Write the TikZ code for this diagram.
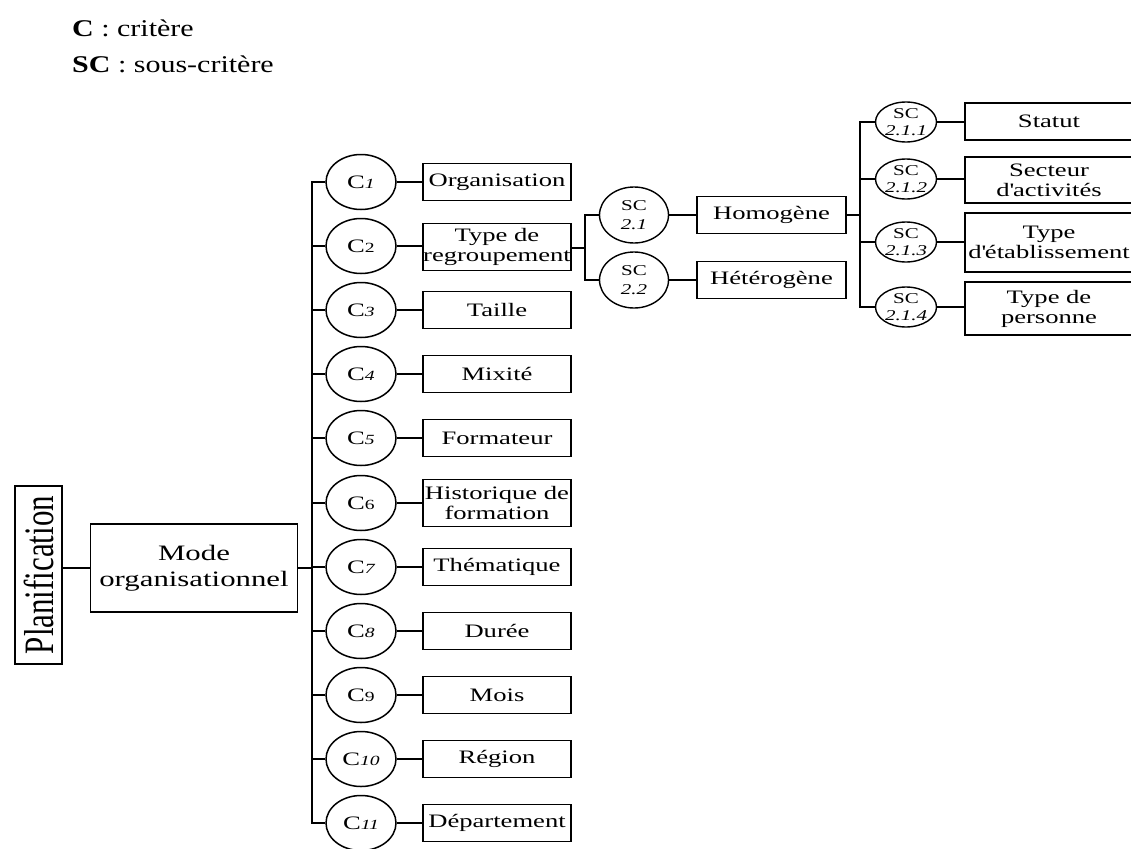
\documentclass[tikz,border=0pt]{standalone}
\usepackage{fontspec}
\usepackage{graphicx}
\usetikzlibrary{shapes.geometric}
\setmainfont{Liberation Serif}
\newfontfamily\df[FakeStretch=1.4]{Liberation Serif}
\newfontfamily\lf[FakeStretch=1.25]{Liberation Serif}
\newcommand{\cnI}[1]{{\fontsize{14}{14}\selectfont\itshape #1}}
\newcommand{\cnU}[1]{{\fontsize{14}{14}\selectfont #1}}
\begin{document}
\begin{tikzpicture}[x=1pt,y=-1pt,
 box/.style={draw, line width=1.6pt, inner sep=0pt, minimum width=148pt, minimum height=37pt, align=center, font=\df\fontsize{19}{20}\selectfont},
 crit/.style={draw, ellipse, line width=1.5pt, inner sep=0pt, minimum width=70pt, minimum height=55pt, font=\df\fontsize{19}{20}\selectfont},
 sc/.style={draw, ellipse, line width=1.4pt, inner sep=0pt, minimum width=69pt, minimum height=56pt, align=center, font=\df\fontsize{15}{19}\selectfont},
 ssc/.style={draw, ellipse, line width=1.4pt, inner sep=-4pt, minimum width=61pt, minimum height=40pt, align=center, font=\df\fontsize{15}{17}\selectfont},
 link/.style={line width=1.6pt},
 bus/.style={line width=2pt, line join=miter}]
\clip (0,0) rectangle (1131,848);
\fill[white] (0,0) rectangle (1131,848);

% legend
\node[anchor=base west, inner sep=0pt, font=\lf\fontsize{24}{24}\selectfont] (l1) at (72,37) {\textbf{C} : critère};
\node[anchor=base west, inner sep=0pt, font=\lf\fontsize{24}{24}\selectfont] (l2) at (72,73) {\textbf{SC} : sous-critère};

% root
\node[draw, line width=1.6pt, inner sep=0pt, minimum width=47pt, minimum height=178pt] (plan) at (38.5,575)
  {\rotatebox{90}{\scalebox{1}[1.35]{\fontsize{31}{31}\selectfont Planification}}};
\node[box, minimum width=207pt, minimum height=88pt, font=\df\fontsize{22}{26}\selectfont] (mode) at (194,568) {Mode\\organisationnel};
\draw[link] (plan.east |- mode.west) -- (mode.west);

% criteria
\node[crit] (c1) at (361,182) {C\cnI{1}};
\node[crit] (c2) at (361,246) {C\cnU{2}};
\node[crit] (c3) at (361,310) {C\cnI{3}};
\node[crit] (c4) at (361,374) {C\cnI{4}};
\node[crit] (c5) at (361,438) {C\cnI{5}};
\node[crit] (c6) at (361,503) {C\cnU{6}};
\node[crit] (c7) at (361,567) {C\cnI{7}};
\node[crit] (c8) at (361,631) {C\cnI{8}};
\node[crit] (c9) at (361,695) {C\cnU{9}};
\node[crit] (c10) at (361,759) {C\cnI{10}};
\node[crit] (c11) at (361,823) {C\cnI{11}};

\node[box] (b1) at (497,182) {Organisation};
\node[box, minimum height=47pt] (b2) at (497,247) {Type de\\regroupement};
\node[box] (b3) at (497,310) {Taille};
\node[box] (b4) at (497,374) {Mixité};
\node[box] (b5) at (497,438) {Formateur};
\node[box, minimum height=47pt] (b6) at (497,503) {Historique de\\formation};
\node[box] (b7) at (497,567) {Thématique};
\node[box] (b8) at (497,631) {Durée};
\node[box] (b9) at (497,695) {Mois};
\node[box] (b10) at (497,759) {Région};
\node[box] (b11) at (497,823) {Département};

\coordinate (bt) at (312,182);
\draw[link] (mode.east) -- (mode.east -| bt);
\draw[bus] (c1.west) -- (c1.west -| bt) -- (c11.west -| bt) -- (c11.west);
\foreach \i in {2,...,10} { \draw[link] (c\i.west -| bt) -- (c\i.west); }
\foreach \i in {1,...,11} { \draw[link] (c\i.east) -- (b\i.west |- c\i.east); }

% sub-criteria of C2
\node[sc] (s21) at (634,215) {SC\\\textit{2.1}};
\node[sc] (s22) at (634,280) {SC\\\textit{2.2}};
\node[box, minimum width=149pt] (h1) at (771.5,215) {Homogène};
\node[box, minimum width=149pt] (h2) at (771.5,280) {Hétérogène};
\coordinate (j2) at (585,248);
\draw[link] (b2.east |- j2) -- (j2);
\draw[link] (s21.west) -- (s21.west -| j2) -- (s22.west -| j2) -- (s22.west);
\draw[link] (s21.east) -- (h1.west);
\draw[link] (s22.east) -- (h2.west);

% sub-sub-criteria of SC 2.1
\node[ssc] (t1) at (906,122) {SC\\\textit{2.1.1}};
\node[ssc] (t2) at (906,179) {SC\\\textit{2.1.2}};
\node[ssc] (t3) at (906,242) {SC\\\textit{2.1.3}};
\node[ssc] (t4) at (906,307) {SC\\\textit{2.1.4}};
\node[box, minimum width=168pt] (r1) at (1049,121.5) {Statut};
\node[box, minimum width=168pt, minimum height=46pt] (r2) at (1049,180) {Secteur\\d\textquotesingle activités};
\node[box, minimum width=168pt, minimum height=59pt] (r3) at (1049,242.5) {Type\\d\textquotesingle établissement};
\node[box, minimum width=168pt, minimum height=53pt] (r4) at (1049,308.5) {Type de\\personne};
\coordinate (j3) at (860,215);
\draw[link] (h1.east) -- (h1.east -| j3);
\draw[link] (t1.west) -- (t1.west -| j3) -- (t4.west -| j3) -- (t4.west);
\draw[link] (t2.west -| j3) -- (t2.west);
\draw[link] (t3.west -| j3) -- (t3.west);
\foreach \i in {1,...,4} { \draw[link] (t\i.east) -- (r\i.west |- t\i.east); }
\end{tikzpicture}
\end{document}
